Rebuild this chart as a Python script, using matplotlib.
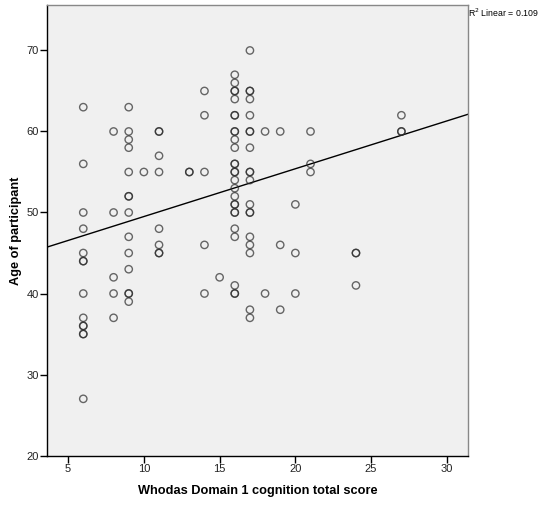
import matplotlib
matplotlib.use("Agg")
import numpy as np
import matplotlib.pyplot as plt

plt.rcParams["font.family"] = ["Liberation Sans Narrow", "Liberation Sans", "DejaVu Sans"]

# cognition score -> ages recorded at that score
ages_by_score = {
    6: [63, 56, 50, 48, 45, 44, 44, 40, 37, 36, 36, 35, 35, 27],
    8: [60, 50, 42, 40, 37],
    9: [63, 60, 59, 58, 55, 52, 52, 50, 47, 45, 43, 40, 40, 39],
    10: [55],
    11: [60, 60, 57, 55, 48, 46, 45, 45],
    13: [55, 55],
    14: [65, 62, 55, 46, 40],
    15: [42],
    16: [67, 66, 65, 65, 64, 62, 62, 60, 60, 59, 58, 56, 56, 55, 55, 54,
         53, 52, 51, 51, 50, 50, 48, 47, 41, 40, 40],
    17: [70, 65, 65, 64, 62, 60, 60, 58, 55, 55, 54, 51, 50, 50, 47, 46,
         45, 38, 37],
    18: [60, 40],
    19: [60, 46, 38],
    20: [51, 45, 40],
    21: [60, 56, 55],
    24: [45, 45, 41],
    27: [62, 60, 60],
}
score = np.array([s for s, ages in ages_by_score.items() for _ in ages])
age = np.array([a for ages in ages_by_score.values() for a in ages])

# linear fit line
fit_intercept = 43.6
fit_slope = 0.59
r_squared = 0.109

x_lim = (3.6, 31.4)
y_lim = (20, 75.6)

fig = plt.figure(figsize=(5.43, 5.09), dpi=100)
ax = fig.add_axes([0.0864, 0.105, 0.7756, 0.885])
ax.set_facecolor("#f0f0f0")

ax.scatter(score, age, s=28, facecolors="none", edgecolors="#2a2a2a",
           linewidths=1.0, alpha=0.7, zorder=3)

xs = np.array(x_lim)
ax.plot(xs, fit_intercept + fit_slope * xs, color="black", lw=1.0, zorder=2)

ax.set_xlim(*x_lim)
ax.set_ylim(*y_lim)
ax.set_xticks([5, 10, 15, 20, 25, 30])
ax.set_yticks([20, 30, 40, 50, 60, 70])

for side in ("top", "right"):
    ax.spines[side].set_color("#888888")
for side in ("left", "bottom"):
    ax.spines[side].set_color("black")
for sp in ax.spines.values():
    sp.set_linewidth(1.0)

ax.tick_params(direction="out", length=5, width=1, labelsize=8, colors="black",
               pad=1)
for lbl in ax.get_xticklabels() + ax.get_yticklabels():
    lbl.set_color("#222222")

ax.set_xlabel("Whodas Domain 1 cognition total score", fontsize=9.2,
              fontweight="bold", family=["Liberation Sans", "DejaVu Sans"],
              labelpad=8)
ax.set_ylabel("Age of participant", fontsize=9.2, fontweight="bold",
              family=["Liberation Sans", "DejaVu Sans"], labelpad=3)

fig.text(0.861, 0.975, f"R$^2$ Linear = {r_squared}", fontsize=6.3,
         ha="left", va="center")

fig.savefig("out.png", dpi=100)
